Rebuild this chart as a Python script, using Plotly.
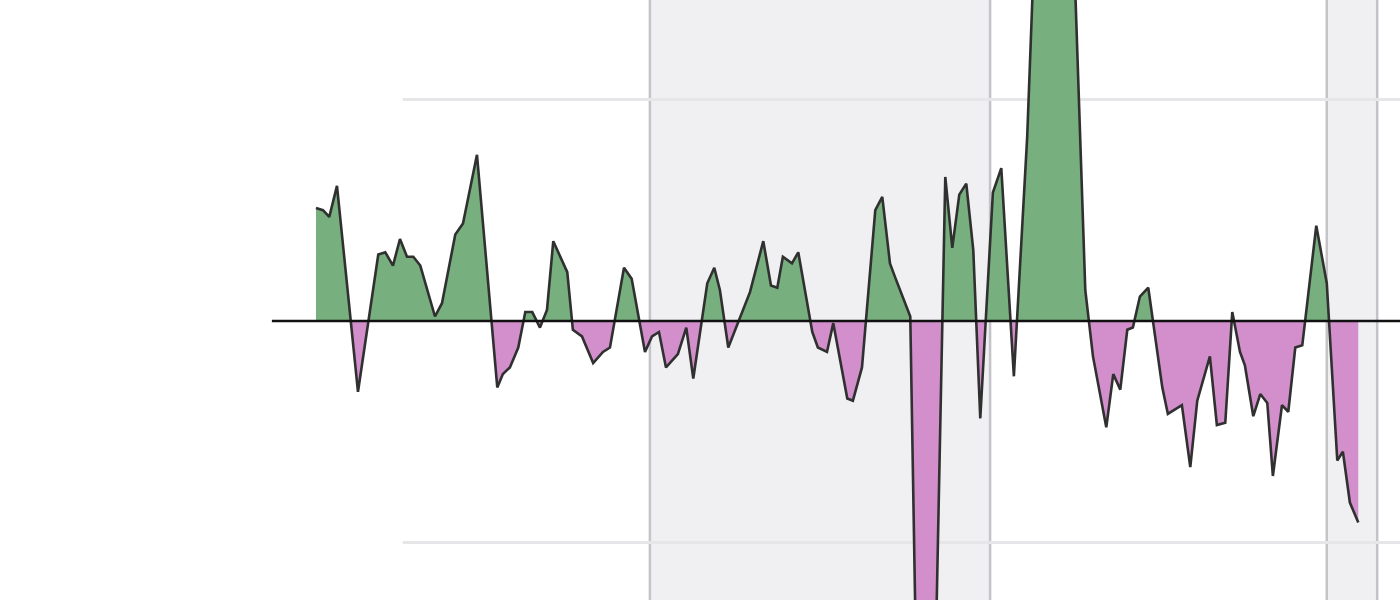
import plotly.graph_objects as go

# period index and indicator values
periods = [0.0, 1.0, 1.9, 3.0, 6.0, 8.9, 9.9, 11.0, 12.0, 13.0, 13.9, 14.9, 17.0, 18.0, 19.9, 21.0, 23.0,
           25.9, 26.7, 27.7, 28.9, 29.9, 30.9, 32.0, 33.0, 33.9, 35.9, 36.7, 38.0, 39.6, 41.0, 42.0,
           44.0, 45.1, 47.0, 48.0, 49.0, 50.0, 51.7, 52.9, 53.9, 55.9, 56.9, 57.7, 58.9, 62.0, 63.9,
           65.0, 65.9, 66.7, 68.0, 68.9, 70.9, 71.7, 73.0, 73.9, 75.9, 76.7, 78.0, 79.9, 80.9, 82.0,
           82.7, 83.7, 84.9, 87.0, 89.9, 90.9, 91.9, 92.9, 93.9, 94.9, 96.7, 97.9, 98.7, 99.7, 101.6,
           105.6, 109.9, 111.0, 112.9, 113.9, 114.9, 115.9, 116.7, 117.7, 118.9, 120.9, 121.7, 123.7,
           124.9, 125.9, 127.7, 128.7, 129.9, 130.9, 132.0, 132.7, 133.9, 134.9, 135.9, 136.7, 138.0,
           138.9, 139.9, 140.9, 142.9, 144.4, 145.9, 146.7, 147.7, 148.9]
values = [0.51, 0.50, 0.47, 0.61, -0.32, 0.30, 0.31, 0.25, 0.37, 0.29, 0.29, 0.25, 0.02, 0.08, 0.39, 0.44, 0.75,
          -0.30, -0.24, -0.21, -0.12, 0.04, 0.04, -0.03, 0.05, 0.36, 0.22, -0.04, -0.07, -0.19, -0.14, -0.12,
          0.24, 0.19, -0.14, -0.07, -0.05, -0.21, -0.15, -0.03, -0.26, 0.17, 0.24, 0.14, -0.12, 0.13, 0.36,
          0.16, 0.15, 0.29, 0.26, 0.31, -0.05, -0.12, -0.14, -0.01, -0.35, -0.36, -0.21, 0.50, 0.56, 0.26,
          0.20, 0.12, 0.02, -3.9, 0.65, 0.33, 0.57, 0.62, 0.32, -0.44, 0.58, 0.69, 0.26, -0.25, 0.83,
          4.2, 0.14, -0.16, -0.48, -0.24, -0.31, -0.04, -0.03, 0.11, 0.15, -0.30, -0.42, -0.38,
          -0.66, -0.36, -0.16, -0.47, -0.46, 0.04, -0.14, -0.20, -0.43, -0.33, -0.37, -0.70, -0.38,
          -0.41, -0.12, -0.11, 0.43, 0.17, -0.63, -0.59, -0.82, -0.91]

shaded_periods = [(47.7, 96.3), (144.4, 151.6)]
grid_levels = [-1, 1]

# split the series at zero crossings for the two-colour fill
xs, ys = [periods[0]], [values[0]]
for i in range(1, len(periods)):
    x0, y0, x1, y1 = periods[i - 1], values[i - 1], periods[i], values[i]
    if y0 * y1 < 0:
        xc = x0 + (x1 - x0) * (0 - y0) / (y1 - y0)
        xs.append(xc)
        ys.append(0.0)
    xs.append(x1)
    ys.append(y1)
pos = [max(v, 0) for v in ys]
neg = [min(v, 0) for v in ys]

fig = go.Figure()
fig.add_trace(go.Scatter(x=xs, y=pos, mode="lines", line=dict(width=0), fill="tozeroy",
                         fillcolor="#77b07e", hoverinfo="skip", showlegend=False))
fig.add_trace(go.Scatter(x=xs, y=neg, mode="lines", line=dict(width=0), fill="tozeroy",
                         fillcolor="#d28fcb", hoverinfo="skip", showlegend=False))
fig.add_trace(go.Scatter(x=periods, y=values, mode="lines", line=dict(color="#303030", width=2.6),
                         showlegend=False))

shapes = []
for g in grid_levels:
    shapes.append(dict(type="line", xref="x", yref="y", x0=12.4, x1=156, y0=g, y1=g,
                       line=dict(color="#e6e6e8", width=3), layer="below"))
for a, b in shaded_periods:
    shapes.append(dict(type="rect", xref="x", yref="paper", x0=a, x1=b, y0=0, y1=1,
                       fillcolor="#f0eff2", line=dict(width=0), layer="below"))
for a, b in shaded_periods:
    for xv in (a, b):
        shapes.append(dict(type="line", xref="x", yref="paper", x0=xv, x1=xv, y0=0, y1=1,
                           line=dict(color="#c4c3c8", width=2.5), layer="below"))
shapes.append(dict(type="line", xref="x", yref="y", x0=-6.3, x1=156, y0=0, y1=0,
                   line=dict(color="#111111", width=2.5), layer="above"))

fig.update_layout(
    width=1400, height=600,
    margin=dict(l=0, r=0, t=0, b=0),
    paper_bgcolor="white", plot_bgcolor="white",
    xaxis=dict(range=[-45.14, 154.86], visible=False, showgrid=False, zeroline=False),
    yaxis=dict(range=[-1.26, 1.449], visible=False, showgrid=False, zeroline=False),
    shapes=shapes,
)
fig.write_html("out.html", config={"displayModeBar": False},
               post_script="document.body.style.margin='0';document.body.style.overflow='hidden';")
